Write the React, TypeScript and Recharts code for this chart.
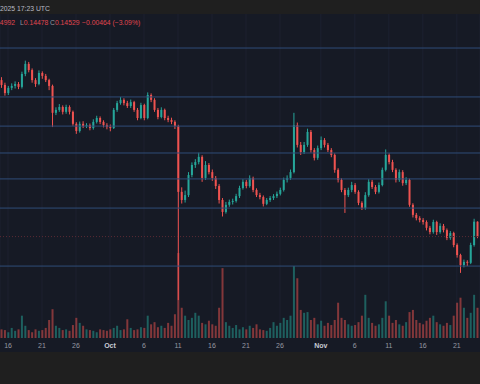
import React from 'react'
import { ComposedChart, Bar, XAxis, YAxis, CartesianGrid, ReferenceLine } from 'recharts'

// 12h candles, time in days from Sep 16
const START_DAY = -1
const STEP = 0.5
const firstOpen = 0.1936

const closes = [
  0.1921, 0.1896, 0.1912, 0.1918, 0.1924, 0.1915, 0.1955, 0.1986, 0.1967, 0.1936,
  0.1924, 0.1958, 0.1949, 0.1936, 0.1918, 0.1835, 0.1844, 0.1853, 0.1838, 0.1853,
  0.1838, 0.1801, 0.1779, 0.1801, 0.1794, 0.1797, 0.1788, 0.1807, 0.1819, 0.1807,
  0.1797, 0.1791, 0.1788, 0.1844, 0.1865, 0.1875, 0.1865, 0.1856, 0.1868, 0.1844,
  0.1819, 0.1859, 0.1819, 0.1890, 0.1875, 0.1844, 0.1822, 0.1844, 0.1819, 0.1813,
  0.1807, 0.1794, 0.1591, 0.1566, 0.1581, 0.1643, 0.1674, 0.1683, 0.1699, 0.1634,
  0.1674, 0.1652, 0.1634, 0.1609, 0.1566, 0.1529, 0.1551, 0.1560, 0.1563, 0.1578,
  0.1603, 0.1622, 0.1609, 0.1634, 0.1597, 0.1581, 0.1575, 0.1554, 0.1566, 0.1572,
  0.1578, 0.1585, 0.1597, 0.1628, 0.1634, 0.1652, 0.1797, 0.1736, 0.1714, 0.1736,
  0.1776, 0.1720, 0.1696, 0.1726, 0.1751, 0.1736, 0.1720, 0.1705, 0.1659, 0.1628,
  0.1597, 0.1581, 0.1597, 0.1612, 0.1591, 0.1557, 0.1541, 0.1581, 0.1622, 0.1606,
  0.1591, 0.1612, 0.1659, 0.1705, 0.1683, 0.1659, 0.1628, 0.1652, 0.1618, 0.1628,
  0.1551, 0.1520, 0.1510, 0.1504, 0.1498, 0.1480, 0.1467, 0.1498, 0.1467, 0.1486,
  0.1473, 0.1449, 0.1464, 0.1427, 0.1396, 0.1365, 0.1375, 0.1372, 0.1427, 0.1499,
  0.1453,
]

const highs = [
  0.1945, 0.1928, 0.1918, 0.1926, 0.1932, 0.1930, 0.1962, 0.1996, 0.1992, 0.1972,
  0.1942, 0.1966, 0.1963, 0.1955, 0.1940, 0.1922, 0.1852, 0.1862, 0.1858, 0.1860,
  0.1858, 0.1842, 0.1806, 0.1808, 0.1809, 0.1803, 0.1802, 0.1815, 0.1826, 0.1824,
  0.1812, 0.1803, 0.1799, 0.1850, 0.1872, 0.1884, 0.1880, 0.1872, 0.1876, 0.1872,
  0.1850, 0.1866, 0.1863, 0.1898, 0.1895, 0.1880, 0.1850, 0.1852, 0.1848, 0.1826,
  0.1820, 0.1812, 0.1798, 0.1605, 0.1595, 0.1652, 0.1682, 0.1692, 0.1712, 0.1704,
  0.1686, 0.1680, 0.1660, 0.1640, 0.1615, 0.1572, 0.1560, 0.1567, 0.1570, 0.1585,
  0.1610, 0.1630, 0.1628, 0.1642, 0.1638, 0.1602, 0.1588, 0.1580, 0.1572, 0.1578,
  0.1584, 0.1592, 0.1604, 0.1635, 0.1642, 0.1660, 0.1835, 0.1805, 0.1745, 0.1745,
  0.1786, 0.1782, 0.1726, 0.1734, 0.1762, 0.1757, 0.1742, 0.1726, 0.1710, 0.1664,
  0.1633, 0.1603, 0.1604, 0.1622, 0.1618, 0.1596, 0.1562, 0.1590, 0.1630, 0.1628,
  0.1612, 0.1620, 0.1666, 0.1722, 0.1710, 0.1690, 0.1664, 0.1660, 0.1658, 0.1636,
  0.1632, 0.1556, 0.1526, 0.1516, 0.1510, 0.1503, 0.1486, 0.1505, 0.1502, 0.1494,
  0.1492, 0.1478, 0.1470, 0.1468, 0.1432, 0.1400, 0.1382, 0.1380, 0.1434, 0.1508,
  0.1500,
]

const lows = [
  0.1912, 0.1888, 0.1890, 0.1905, 0.1910, 0.1908, 0.1910, 0.1948, 0.1960, 0.1928,
  0.1915, 0.1920, 0.1940, 0.1930, 0.1905, 0.1791, 0.1828, 0.1838, 0.1830, 0.1832,
  0.1830, 0.1795, 0.1770, 0.1774, 0.1788, 0.1788, 0.1781, 0.1783, 0.1802, 0.1800,
  0.1790, 0.1784, 0.1778, 0.1785, 0.1838, 0.1860, 0.1858, 0.1850, 0.1850, 0.1838,
  0.1812, 0.1815, 0.1812, 0.1815, 0.1868, 0.1838, 0.1815, 0.1818, 0.1812, 0.1806,
  0.1800, 0.1785, 0.1257, 0.1555, 0.1558, 0.1575, 0.1636, 0.1665, 0.1676, 0.1622,
  0.1628, 0.1645, 0.1625, 0.1600, 0.1555, 0.1515, 0.1524, 0.1545, 0.1552, 0.1558,
  0.1572, 0.1598, 0.1602, 0.1604, 0.1590, 0.1575, 0.1568, 0.1546, 0.1550, 0.1560,
  0.1566, 0.1572, 0.1580, 0.1592, 0.1620, 0.1628, 0.1648, 0.1728, 0.1705, 0.1708,
  0.1730, 0.1712, 0.1688, 0.1690, 0.1720, 0.1728, 0.1714, 0.1698, 0.1650, 0.1620,
  0.1590, 0.1526, 0.1575, 0.1590, 0.1585, 0.1550, 0.1535, 0.1536, 0.1576, 0.1600,
  0.1584, 0.1586, 0.1608, 0.1654, 0.1676, 0.1652, 0.1620, 0.1622, 0.1610, 0.1612,
  0.1545, 0.1512, 0.1503, 0.1497, 0.1490, 0.1472, 0.1460, 0.1462, 0.1458, 0.1462,
  0.1466, 0.1442, 0.1443, 0.1420, 0.1388, 0.1341, 0.1358, 0.1362, 0.1368, 0.1422,
  0.1448,
]

// volume, millions
const volumes = [
  12, 11, 8, 14, 10, 12, 31, 17, 11, 8,
  12, 10, 11, 14, 25, 40, 17, 14, 11, 12,
  10, 18, 28, 21, 17, 12, 11, 10, 8, 12,
  11, 10, 12, 14, 17, 11, 12, 26, 14, 11,
  12, 15, 14, 31, 19, 22, 15, 17, 14, 21,
  17, 33, 118, 42, 31, 25, 28, 35, 31, 21,
  19, 24, 19, 17, 42, 97, 22, 17, 14, 18,
  12, 15, 12, 17, 14, 19, 12, 11, 10, 14,
  22, 17, 21, 28, 25, 31, 100, 83, 39, 35,
  36, 25, 28, 19, 24, 17, 21, 18, 25, 49,
  28, 25, 19, 17, 18, 22, 31, 60, 28, 21,
  17, 19, 28, 51, 31, 21, 25, 19, 17, 22,
  36, 39, 25, 21, 19, 24, 28, 31, 22, 19,
  17, 21, 18, 31, 49, 56, 42, 28, 35, 60,
  42,
]

const levelLines = [0.2035, 0.1884, 0.1794, 0.1711, 0.1631, 0.1541, 0.1362]
const lastPrice = 0.1453

const tickDays = [0, 5, 10, 15, 20, 25, 30, 35, 40, 46, 51, 56, 61, 66]
const tickLabels = ['16', '21', '26', 'Oct', '6', '11', '16', '21', '26', 'Nov', '6', '11', '16', '21']

const UP = '#26a69a'
const DOWN = '#ef5350'
const BG = '#161a25'
const FONT = '"Liberation Sans", Arial, sans-serif'

const data = closes.map((close, i) => {
  const open = i === 0 ? firstOpen : closes[i - 1]
  return {
    t: START_DAY + i * STEP,
    open,
    close,
    range: [lows[i], highs[i]],
    volume: volumes[i],
    up: close >= open,
  }
})

function Candle(props: any) {
  const { x, y, width, height, payload } = props
  if (x == null || y == null) return null
  const [low, high] = payload.range
  const top = Math.min(y, y + height)
  const h = Math.abs(height)
  const cx = x + width / 2
  const span = high - low || 1
  const toY = (v: number) => top + ((high - v) / span) * h
  const bTop = toY(Math.max(payload.open, payload.close))
  const bBot = toY(Math.min(payload.open, payload.close))
  const color = payload.up ? UP : DOWN
  return (
    <g>
      <line x1={cx} x2={cx} y1={top} y2={top + h} stroke={color} strokeWidth={1} />
      <rect x={cx - 1} y={bTop} width={2} height={Math.max(1, bBot - bTop)} fill={color} />
    </g>
  )
}

function VolumeBar(props: any) {
  const { x, y, width, height, payload } = props
  if (x == null || y == null) return null
  const cx = x + width / 2
  return (
    <rect
      x={cx - 1}
      y={Math.min(y, y + height)}
      width={2}
      height={Math.abs(height)}
      fill={payload.up ? 'rgba(38,166,154,0.5)' : 'rgba(239,83,80,0.5)'}
    />
  )
}

function DayTick({ x, y, payload }: any) {
  const label = tickLabels[tickDays.indexOf(payload.value)]
  const isMonth = label === 'Oct' || label === 'Nov'
  return (
    <text
      x={x}
      y={y}
      dy={10}
      textAnchor="middle"
      fontSize={7}
      fontFamily={FONT}
      fontWeight={isMonth ? 700 : 400}
      fill={isMonth ? '#c9ccd4' : '#9598a1'}
    >
      {label}
    </text>
  )
}

export default function App() {
  const domain: [number, number] = [-1.18, 69.41]
  return (
    <div style={{ position: 'absolute', left: 0, top: 0, width: 480, height: 384, background: '#1f1f1f', overflow: 'hidden' }}>
      <div style={{ position: 'absolute', left: 0, top: 14, width: 480, height: 338, background: BG }}>
        <ComposedChart width={480} height={338} data={data} margin={{ top: 0, right: 0, bottom: 0, left: 0 }}>
          <CartesianGrid xAxisId="price" yAxisId="price" horizontal={false} stroke="#1d2130" />
          <XAxis
            xAxisId="price"
            dataKey="t"
            type="number"
            domain={domain}
            allowDataOverflow
            ticks={tickDays}
            interval={0}
            axisLine={false}
            tickLine={false}
            tickSize={0}
            tickMargin={0}
            height={14}
            tick={<DayTick />}
          />
          <XAxis xAxisId="vol" dataKey="t" type="number" domain={domain} allowDataOverflow hide />
          <YAxis yAxisId="price" type="number" domain={[0.114, 0.214]} allowDataOverflow hide />
          <YAxis yAxisId="vol" type="number" domain={[0, 450]} hide />
          {levelLines.map((v) => (
            <ReferenceLine key={v} xAxisId="price" yAxisId="price" y={v} stroke="#2f4c78" strokeWidth={1} />
          ))}
          <ReferenceLine xAxisId="price" yAxisId="price" y={lastPrice} stroke="#5a2a33" strokeDasharray="1 2" strokeWidth={1} />
          <Bar xAxisId="vol" yAxisId="vol" dataKey="volume" barSize={2} shape={<VolumeBar />} isAnimationActive={false} />
          <Bar xAxisId="price" yAxisId="price" dataKey="range" barSize={2} shape={<Candle />} isAnimationActive={false} />
        </ComposedChart>
      </div>
      <svg width={480} height={30} style={{ position: 'absolute', left: 0, top: 0 }}>
        <text x={0} y={10.5} fontSize={6.8} fontFamily={FONT} fill="#b8bbc4">2025 17:23 UTC</text>
        <text x={15} y={24.5} fontSize={6.8} fontFamily={FONT} textAnchor="end" fill="#e0464f">0.14992</text>
        <text x={20} y={24.5} fontSize={6.8} fontFamily={FONT}>
          <tspan fill="#9598a1">L</tspan>
          <tspan fill="#e0464f">0.14478</tspan>
        </text>
        <text x={50} y={24.5} fontSize={6.8} fontFamily={FONT}>
          <tspan fill="#9598a1">C</tspan>
          <tspan fill="#e0464f">0.14529</tspan>
        </text>
        <text x={82} y={24.5} fontSize={6.8} fontFamily={FONT} fill="#e0464f">−0.00464 (−3.09%)</text>
      </svg>
    </div>
  )
}
